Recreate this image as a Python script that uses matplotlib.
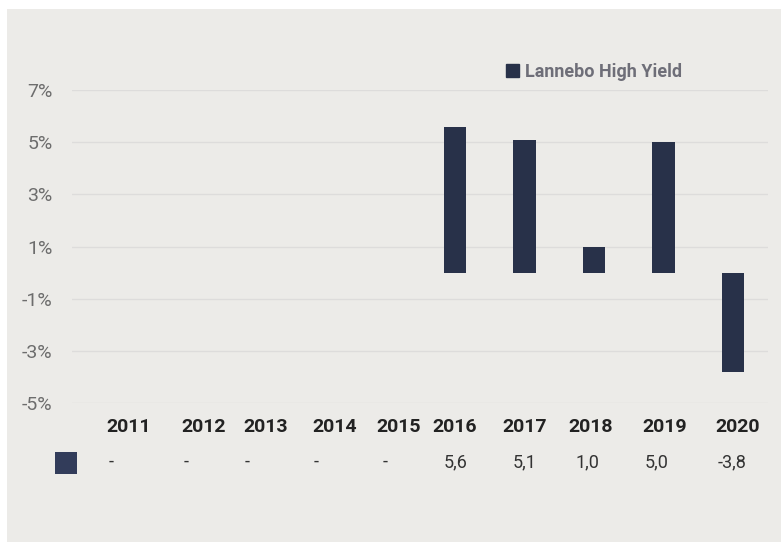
import numpy as np
import matplotlib
matplotlib.use("Agg")
import matplotlib.pyplot as plt
from matplotlib.patches import Rectangle, Patch

plt.rcParams['font.family'] = ['Roboto', 'DejaVu Sans']

# Data
years = ['2011', '2012', '2013', '2014', '2015', '2016', '2017', '2018', '2019', '2020']
returns = [np.nan, np.nan, np.nan, np.nan, np.nan, 5.6, 5.1, 1.0, 5.0, -3.8]
series_name = 'Lannebo High Yield'
y_ticks = [-5, -3, -1, 1, 3, 5, 7]

# Layout (pixels)
W, H = 781, 542
bar_color = '#283149'
bg_color = '#ECEBE8'
year_x = [129, 204, 266, 335, 399, 455, 525, 591, 665, 738]
value_x = [111, 186, 247, 316, 385, 456, 525, 587, 657, 732]

fig = plt.figure(figsize=(W / 100, H / 100), dpi=100)
fig.patch.set_facecolor('white')
fig.patches.append(Rectangle((7 / W, 0), 1 - 7 / W, (H - 9) / H,
                             transform=fig.transFigure, facecolor=bg_color,
                             edgecolor='none', zorder=-10))

ax = fig.add_axes([72 / W, (H - 403) / H, 696 / W, 313 / H])
ax.set_facecolor('none')
x = np.arange(len(years))
ax.bar(x, returns, width=0.32, color=bar_color, zorder=3)
ax.set_xlim(-0.5, len(years) - 0.5)
ax.set_ylim(-5, 7)

ax.set_yticks(y_ticks)
ax.set_yticklabels([f'{t}%' for t in y_ticks], fontsize=14, color='#6d6d6d')
ax.tick_params(axis='y', length=0, pad=14)
ax.set_xticks([])
ax.grid(axis='y', color='#DDDCDB', linewidth=1.0, zorder=0)
for s in ax.spines.values():
    s.set_visible(False)

# Legend
ax.legend(handles=[Patch(color=bar_color, label=series_name)],
          loc='center left', bbox_to_anchor=(497 / W, (H - 72) / H),
          bbox_transform=fig.transFigure, frameon=False,
          prop={'weight': 'bold', 'size': 13}, labelcolor='#6e6e78',
          handlelength=0.7, handleheight=0.7, handletextpad=0.35, borderpad=0)

# Table row under chart
for xi, yr in zip(year_x, years):
    fig.text(xi / W, (H - 427) / H, yr, ha='center', va='center',
             fontsize=14, fontweight='bold', color='#222222')
for xi, v in zip(value_x, returns):
    label = '-' if np.isnan(v) else f'{v:.1f}'.replace('.', ',')
    fig.text(xi / W, (H - 462) / H, label, ha='center', va='center',
             fontsize=13, color='#333333')
fig.patches.append(Rectangle((55 / W, (H - 474) / H), 22 / W, 22 / H,
                             transform=fig.transFigure, facecolor='#323c5a',
                             edgecolor='none', zorder=1))

plt.savefig('out.png', dpi=100, facecolor=fig.get_facecolor())
